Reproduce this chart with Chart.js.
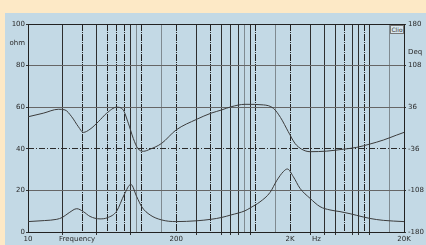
<!DOCTYPE html>
<html><head><meta charset="utf-8">
<script src="https://cdn.jsdelivr.net/npm/chart.js@4.4.1/dist/chart.umd.min.js"></script>
<style>
html,body{margin:0;padding:0;background:#fde9c6;width:426px;height:245px;overflow:hidden}
#panel{position:absolute;left:5px;top:13px;width:421px;height:232px;background:#c3d9e5}
#c{position:absolute;left:0;top:0}
#logo{position:absolute;left:385px;top:12px;width:12px;height:7px;border:1px solid #777;font:6px "DejaVu Sans";line-height:7px;color:#333;text-align:center;background:#d8e6ee}
</style></head>
<body>
<div id="panel"><canvas id="c" width="421" height="232"></canvas><div id="logo">Clio</div></div>
<script>
// impedance (ohm, left axis)
const freqZ = [10,14,17.9,20,23,26.8,30.6,35,42.9,50,60,70,80,90,100,118,149,199,303,404,502,606,804,900,1089,1333,1526,1743,1891,2134,2443,2992,3661,4479,5486,6714,7692,10070,13160,20000];
const valZ  = [5.0,5.5,6.1,7.0,9.3,11.2,9.8,7.5,6.3,6.9,10.0,18,22.9,17,12,8.2,5.8,5.0,5.4,6.1,7.0,8.2,10.2,11.7,14.5,19,24.7,29,30.3,26.6,21,16.2,12.2,10.6,9.8,8.8,8.0,6.5,5.6,5.0];
// phase (degrees, right axis)
const freqP = [10,13.6,18.5,21.1,24.2,27.7,30.6,35,41.4,49.1,60.1,67.8,76,84,92,103,118,149,199,303,404,502,606,804,1164,1425,1650,1929,2207,2529,2992,4192,5865,7692,10070,13160,17260,20000];
const valP  = [19.4,25.6,32.4,31.3,19.4,2.2,-7.6,-2.2,10.8,25.6,36,32.4,8.3,-18,-35.3,-40.3,-36.7,-26.6,-3.6,15.1,25.6,31.3,36.7,41,40,34.2,18,-6.5,-26.6,-36.7,-41,-40,-36.7,-33.5,-27.7,-20.9,-12.2,-7.6];
// tick labels
const xLabelVals = [10,27,200,2000,3400,20000];
const xLabelText = ['10','Frequency','200','2K','Hz','20K'];
const yTicks = [0,20,40,60,80,90.7,100];
const yTickText = ['0','20','40','60','80','ohm','100'];
const phaseTicks = [-180,-108,-36,36,108,132,180];
const phaseTickText = ['-180','-108','-36','36','108','Deq','180'];
// grid line groups
const xSolid = [20,40,80,300,500,600,700,900,3000,4000,5000,7000,8000,10000];
const xDash = [30,50,60,70,100,200,400,1000,2000,6000,9000];
const xGrey = [90,150,800,1500,15000];

Chart.defaults.font = {family:'DejaVu Sans', size:7};
Chart.defaults.color = '#2a2a2a';

const setTicks = arr => s => { s.ticks = arr.map(v => ({value:v})); };
const logBase = {type:'logarithmic', min:10, max:20000, position:'bottom'};
const helperX = (vals, color, dash) => Object.assign({}, logBase, {
  afterBuildTicks: setTicks(vals),
  afterFit: s => { s.height = 0; },
  ticks:{display:false, autoSkip:false, maxRotation:0},
  border:{display:false, dash:dash},
  grid:{color:color, lineWidth:1, drawTicks:true, tickLength:3, tickColor:color}
});
const mainXTicks = xSolid.concat(xLabelVals).sort((a,b)=>a-b);

new Chart(document.getElementById('c'), {
  type:'line',
  data:{datasets:[
    {data:freqZ.map((f,i)=>({x:f,y:valZ[i]})), xAxisID:'x', yAxisID:'y', borderColor:'#3c3c3c', borderWidth:1, pointRadius:0, cubicInterpolationMode:'monotone'},
    {data:freqP.map((f,i)=>({x:f,y:valP[i]})), xAxisID:'x', yAxisID:'y1', borderColor:'#3c3c3c', borderWidth:1, pointRadius:0, cubicInterpolationMode:'monotone'}
  ]},
  options:{
    animation:false, responsive:false, events:[],
    layout:{padding:{top:11,left:0,right:0,bottom:0}},
    plugins:{legend:{display:false}, tooltip:{enabled:false}},
    scales:{
      x: Object.assign({}, logBase, {
        afterBuildTicks: setTicks(mainXTicks),
        afterFit: s => { s.height = 13; },
        ticks:{autoSkip:false, maxRotation:0, minRotation:0, padding:0,
          callback:(v)=>{const i=xLabelVals.indexOf(v); return i>=0?xLabelText[i]:'';}},
        border:{display:true, color:'#222', width:1},
        grid:{lineWidth:1, tickLength:3,
          color:c=> xSolid.includes(c.tick.value)?'#2e2e2e':'rgba(0,0,0,0)',
          tickColor:c=> xSolid.includes(c.tick.value)?'#2e2e2e':'rgba(0,0,0,0)'}
      }),
      xd: helperX(xDash, '#222', [7,1,1,1]),
      xg: helperX(xGrey, '#7f8a90', []),
      y:{type:'linear', min:0, max:100, position:'left',
        afterBuildTicks: setTicks(yTicks),
        afterFit: s => { s.width = 23; },
        ticks:{padding:1, callback:(v)=>{const i=yTicks.indexOf(v); return i>=0?yTickText[i]:'';}},
        border:{display:true, color:'#222', width:1},
        grid:{lineWidth:1, tickLength:2,
          color:c=> c.tick.value===100?'#222': (c.tick.value===20||c.tick.value===60||c.tick.value===80)?'#666':'rgba(0,0,0,0)',
          tickColor:c=> c.tick.value===90.7?'rgba(0,0,0,0)':'#333'}
      },
      yd:{type:'linear', min:0, max:100, position:'left',
        afterBuildTicks: setTicks([40]),
        afterFit: s => { s.width = 0; },
        ticks:{display:false},
        border:{display:false, dash:[6,2,1,2]},
        grid:{color:'#2a2a2a', lineWidth:1, drawTicks:false}
      },
      y1:{type:'linear', min:-180, max:180, position:'right',
        afterBuildTicks: setTicks(phaseTicks),
        afterFit: s => { s.width = 22; },
        ticks:{padding:2, callback:(v)=>{const i=phaseTicks.indexOf(v); return i>=0?phaseTickText[i]:'';}},
        border:{display:true, color:'#222', width:1},
        grid:{drawOnChartArea:false, tickLength:2,
          tickColor:c=> c.tick.value===132?'rgba(0,0,0,0)':'#333'}
      }
    }
  }
});
</script>
</body></html>
